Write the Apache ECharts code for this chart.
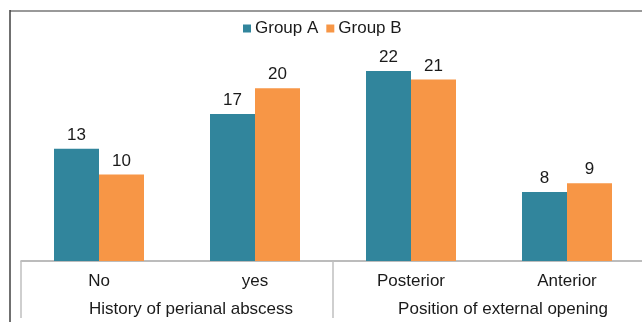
<!DOCTYPE html>
<html>
<head>
<meta charset="utf-8">
<style>
  html, body { margin: 0; padding: 0; background: #fff; overflow: hidden; }
  /* the plot runs slightly past the right edge of the page */
  #chart { width: 648px; height: 322px; }
</style>
<script src="https://cdn.jsdelivr.net/npm/echarts@6/dist/echarts.min.js"></script>
</head>
<body>
<div id="chart"></div>
<script>
// Sub-categories along the axis and the groups they belong to
const categories = ['No', 'yes', 'Posterior', 'Anterior'];
const groups = ['History of perianal abscess', 'Position of external opening'];
const seriesNames = ['Group A', 'Group B'];
const groupA = [13, 17, 22, 8];
const groupB = [10, 20, 21, 9];

const FONT = '"Liberation Sans", Arial, sans-serif';
const TEXT = '#1a1a1a';

const chart = echarts.init(document.getElementById('chart'), null, { renderer: 'canvas' });

chart.setOption({
  animation: false,
  color: ['#31859C', '#F79646'],
  textStyle: { fontFamily: FONT },
  legend: {
    data: seriesNames,
    left: 238,
    top: 15,
    itemWidth: 8,
    itemHeight: 8,
    itemGap: 8,
    icon: 'rect',
    textStyle: { fontSize: 17, color: TEXT, fontFamily: FONT, padding: [0, 0, 0, -1] }
  },
  grid: { left: 21, top: 45, right: 3, height: 216, containLabel: false },
  xAxis: [
    {
      type: 'category',
      data: categories,
      position: 'bottom',
      axisLine: { show: true, lineStyle: { color: '#a6a6a6', width: 1.5 } },
      axisTick: { show: false },
      axisLabel: { margin: 12, fontSize: 17, color: TEXT, fontFamily: FONT, interval: 0 },
      splitLine: { show: false }
    },
    {
      type: 'category',
      data: groups,
      position: 'bottom',
      offset: 0,
      axisLine: { show: false },
      axisTick: { show: true, length: 57, interval: 0, lineStyle: { color: '#c0c0c0', width: 1.5 } },
      axisLabel: { margin: 40, fontSize: 17, color: TEXT, fontFamily: FONT, interval: 0, padding: [0, 0, 0, 28] },
      splitLine: { show: false }
    }
  ],
  yAxis: {
    type: 'value',
    min: 0,
    max: 25,
    show: false,
    splitLine: { show: false }
  },
  series: [
    {
      name: seriesNames[0],
      type: 'bar',
      data: groupA,
      barWidth: 45,
      barGap: '0%',
      label: { show: true, position: 'top', distance: 5, fontSize: 17, color: TEXT, fontFamily: FONT }
    },
    {
      name: seriesNames[1],
      type: 'bar',
      data: groupB,
      barWidth: 45,
      barGap: '0%',
      label: { show: true, position: 'top', distance: 5, fontSize: 17, color: TEXT, fontFamily: FONT }
    }
  ],
  graphic: [
    // chart frame: top and left edges
    { type: 'line', shape: { x1: 10, y1: 11, x2: 648, y2: 11 }, style: { stroke: '#999999', lineWidth: 2 }, silent: true },
    { type: 'line', shape: { x1: 10, y1: 10, x2: 10, y2: 322 }, style: { stroke: '#404040', lineWidth: 1.5 }, silent: true }
  ]
});
</script>
</body>
</html>
